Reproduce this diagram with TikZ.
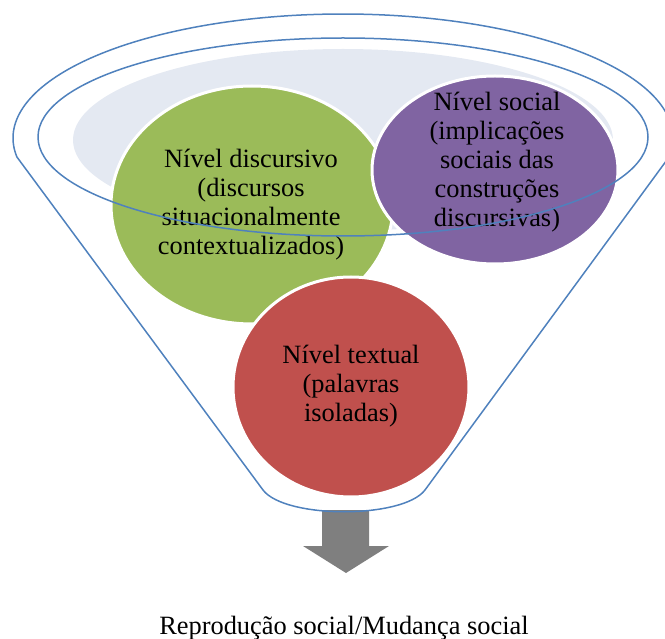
\documentclass[tikz,border=0pt]{standalone}
\usepackage{fontspec}
\setmainfont{Liberation Serif}
\newfontfamily\levelfont{Liberation Serif}
\usetikzlibrary{shapes.geometric}
\definecolor{funnelblue}{HTML}{4F81BD}
\definecolor{rimgray}{HTML}{E4E9F2}
\definecolor{lvgreen}{HTML}{9BBB59}
\definecolor{lvpurple}{HTML}{8064A2}
\definecolor{lvred}{HTML}{C0504D}
\definecolor{arrowgray}{HTML}{7F7F7F}
\begin{document}
\begin{tikzpicture}[x=1pt,y=-1pt,
  levelshape/.style={ellipse, draw=white, line width=3pt, inner sep=0pt},
  leveltext/.style={align=center, inner sep=0pt, font=\levelfont\fontsize{26.4}{29}\selectfont},
  rim/.style={draw=funnelblue, line width=1.5pt, line join=round}]
\useasboundingbox (0,0) rectangle (665,639);
% light rim fill
\fill[rimgray] (343,140) ellipse [x radius=270, y radius=91];
% arrow
\fill[arrowgray] (322,510) -- (369,510) -- (369,546) -- (389,546) -- (346,573) -- (303,546) -- (322,546) -- cycle;
% funnel outline
\draw[rim] plot[domain=171.2:368.8,samples=150] ({343+330*cos(\x)},{138+124*sin(\x)})
  -- (425,490) .. controls (403,519) and (285,519) .. (263,490) -- cycle;
% levels
\node[levelshape, fill=lvgreen, minimum width=282pt, minimum height=238pt] (disc) at (252,205) {};
\node[levelshape, fill=lvpurple, minimum width=246pt, minimum height=188pt] (soc) at (495,170) {};
\node[levelshape, fill=lvred, minimum width=236pt, minimum height=220pt] (text) at (351,387) {};
\node[leveltext] (disct) at (251,205) {Nível discursivo\\(discursos\\situacionalmente\\contextualizados)};
\node[leveltext] (soct) at (497,162) {Nível social\\(implicações\\sociais das\\construções\\discursivas)};
\node[leveltext] (textt) at (351,386) {Nível textual\\(palavras\\isoladas)};
% inner rim line
\draw[rim] (343,137) ellipse [x radius=305, y radius=99];
% result
\node[leveltext, anchor=base] (result) at (344,634) {Reprodução social/Mudança social};
\end{tikzpicture}
\end{document}
